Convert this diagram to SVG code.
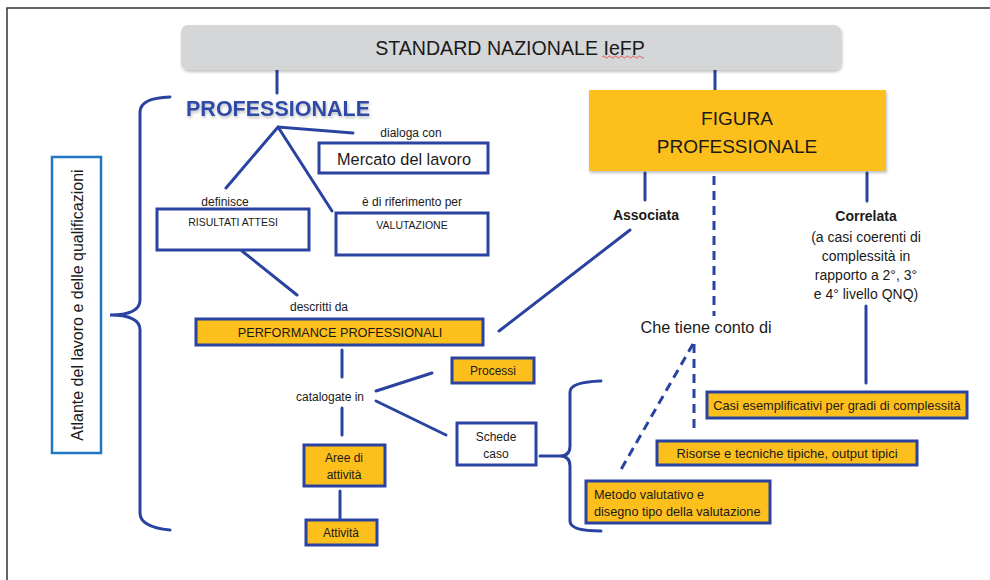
<svg xmlns="http://www.w3.org/2000/svg" width="990" height="580" viewBox="0 0 990 580">
<style>
text{font-family:"Liberation Sans","Open Sans",sans-serif;fill:#1a1a1a}
.ln{stroke:#2b43a0;stroke-width:3;fill:none;stroke-linecap:round}
.dash{stroke:#2b43a0;stroke-width:3;fill:none;stroke-dasharray:9 6}
.bx{fill:#ffffff;stroke:#2b43a0;stroke-width:3}
.ob{fill:#fdbf1c;stroke:#2b43a0;stroke-width:3}
.m{text-anchor:middle}
</style>
<defs>
<filter id="sh" x="-10%" y="-10%" width="120%" height="130%">
<feDropShadow dx="1" dy="2" stdDeviation="1.5" flood-color="#000" flood-opacity="0.25"/>
</filter>
</defs>
<rect width="990" height="580" fill="#ffffff"/>
<path d="M7 580 V8 H990" fill="none" stroke="#333" stroke-width="1.5"/>

<g id="connectors">
<line class="ln" x1="277" y1="67" x2="277" y2="93"/>
<line class="ln" x1="715" y1="70" x2="715" y2="90"/>
<path class="ln" d="M170 97 Q140 98 140 112 V300 Q140 315 110 315 Q140 315 140 330 V513 Q140 527 170 530"/>
<path class="ln" d="M353 133 L278 127 L226 188 M278 127 L332 211"/>
<line class="ln" x1="242" y1="251" x2="297" y2="295"/>
<line class="ln" x1="342" y1="350" x2="342" y2="377"/>
<line class="ln" x1="376" y1="391" x2="432" y2="373"/>
<line class="ln" x1="376" y1="401" x2="446" y2="435"/>
<line class="ln" x1="342" y1="408" x2="342" y2="435"/>
<line class="ln" x1="340" y1="491" x2="340" y2="518"/>
<path class="ln" d="M540 456 H560 Q570 456 570 446 V392 Q570 382 601 381 M560 456 Q570 456 570 466 V521 Q570 531 601 531"/>
<line class="ln" x1="645" y1="173" x2="645" y2="200"/>
<line class="ln" x1="630" y1="230" x2="499" y2="331"/>
<line class="dash" x1="714" y1="176" x2="714" y2="316"/>
<line class="ln" x1="867" y1="173" x2="867" y2="201"/>
<line class="ln" x1="866" y1="306" x2="866" y2="383"/>
<line class="dash" x1="694" y1="344" x2="694" y2="428"/>
<line class="dash" x1="693" y1="344" x2="619" y2="473"/>
</g>

<g id="standard">
<rect x="181" y="25" width="660" height="45" rx="7" fill="#d4d6d8" filter="url(#sh)"/>
<text x="510" y="55" class="m" font-size="19.6">STANDARD NAZIONALE IeFP</text>
<path d="M602 57 q1.5 -2 3 0 t3 0 t3 0 t3 0 t3 0 t3 0 t3 0 t3 0 t3 0 t3 0 t3 0 t3 0 t3 0 t3 0" fill="none" stroke="#e04040" stroke-width="0.8"/>
</g>

<g id="professionale">
<text x="278" y="116" class="m" font-size="21.5" font-weight="bold" style="fill:#2d49a6" filter="url(#sh)">PROFESSIONALE</text>
</g>

<g id="atlante">
<rect x="52" y="157" width="49" height="296" fill="#fff" stroke="#1f78c1" stroke-width="2.5"/>
<text transform="translate(83 305) rotate(-90)" class="m" font-size="16">Atlante del lavoro e delle qualificazioni</text>
</g>

<g id="dialoga"><text x="411" y="137" class="m" font-size="12">dialoga con</text></g>
<g id="mercato">
<rect class="bx" x="319" y="143" width="169" height="30"/>
<text x="404" y="165" class="m" font-size="16.3">Mercato del lavoro</text>
</g>
<g id="definisce"><text x="225" y="206" class="m" font-size="12">definisce</text></g>
<g id="risultati">
<rect class="bx" x="157" y="209" width="152" height="41"/>
<text x="233" y="226" class="m" font-size="10.5">RISULTATI ATTESI</text>
</g>
<g id="riferimento"><text x="412" y="206" class="m" font-size="12">è di riferimento per</text></g>
<g id="valutazione">
<rect class="bx" x="336" y="213" width="152" height="42"/>
<text x="412" y="229" class="m" font-size="10.5">VALUTAZIONE</text>
</g>
<g id="descritti"><text x="319" y="311" class="m" font-size="12">descritti da</text></g>
<g id="performance">
<rect class="ob" x="196" y="319" width="287" height="26"/>
<text x="340" y="337" class="m" font-size="12.7">PERFORMANCE PROFESSIONALI</text>
</g>
<g id="catalogate"><text x="330" y="401" class="m" font-size="12">catalogate in</text></g>
<g id="processi">
<rect class="ob" x="452" y="358" width="82" height="25"/>
<text x="493" y="375" class="m" font-size="12">Processi</text>
</g>
<g id="schede">
<rect class="bx" x="457" y="423" width="79" height="42"/>
<text x="496" y="441" class="m" font-size="12">Schede</text>
<text x="496" y="458" class="m" font-size="12">caso</text>
</g>
<g id="aree">
<rect class="ob" x="304" y="445" width="81" height="41"/>
<text x="344" y="462" class="m" font-size="12">Aree di</text>
<text x="344" y="479" class="m" font-size="12">attività</text>
</g>
<g id="attivita">
<rect class="ob" x="306" y="520" width="71" height="25"/>
<text x="341" y="537" class="m" font-size="12">Attività</text>
</g>

<g id="figura">
<rect x="589" y="90" width="297" height="81" fill="#fdbf1c" filter="url(#sh)"/>
<text x="737" y="125" class="m" font-size="19">FIGURA</text>
<text x="737" y="153" class="m" font-size="19">PROFESSIONALE</text>
</g>
<g id="associata"><text x="646" y="220" class="m" font-size="14" font-weight="bold">Associata</text></g>
<g id="correlata">
<text x="866" y="221" class="m" font-size="14" font-weight="bold">Correlata</text>
<text x="866" y="242" class="m" font-size="14">(a casi coerenti di</text>
<text x="866" y="261" class="m" font-size="14">complessità in</text>
<text x="866" y="280" class="m" font-size="14">rapporto a 2°, 3°</text>
<text x="866" y="299" class="m" font-size="14">e 4° livello QNQ)</text>
</g>
<g id="tiene"><text x="706" y="333" class="m" font-size="16.3">Che tiene conto di</text></g>
<g id="casi">
<rect class="ob" x="707" y="392" width="260" height="26"/>
<text x="837" y="410" class="m" font-size="12.8">Casi esemplificativi per gradi di complessità</text>
</g>
<g id="risorse">
<rect class="ob" x="657" y="441" width="260" height="24"/>
<text x="787" y="458" class="m" font-size="13">Risorse e tecniche tipiche, output tipici</text>
</g>
<g id="metodo">
<rect class="ob" x="586" y="481" width="184" height="42"/>
<text x="594" y="499" font-size="12.7">Metodo valutativo e</text>
<text x="594" y="516" font-size="12.7">disegno tipo della valutazione</text>
</g>
</svg>
